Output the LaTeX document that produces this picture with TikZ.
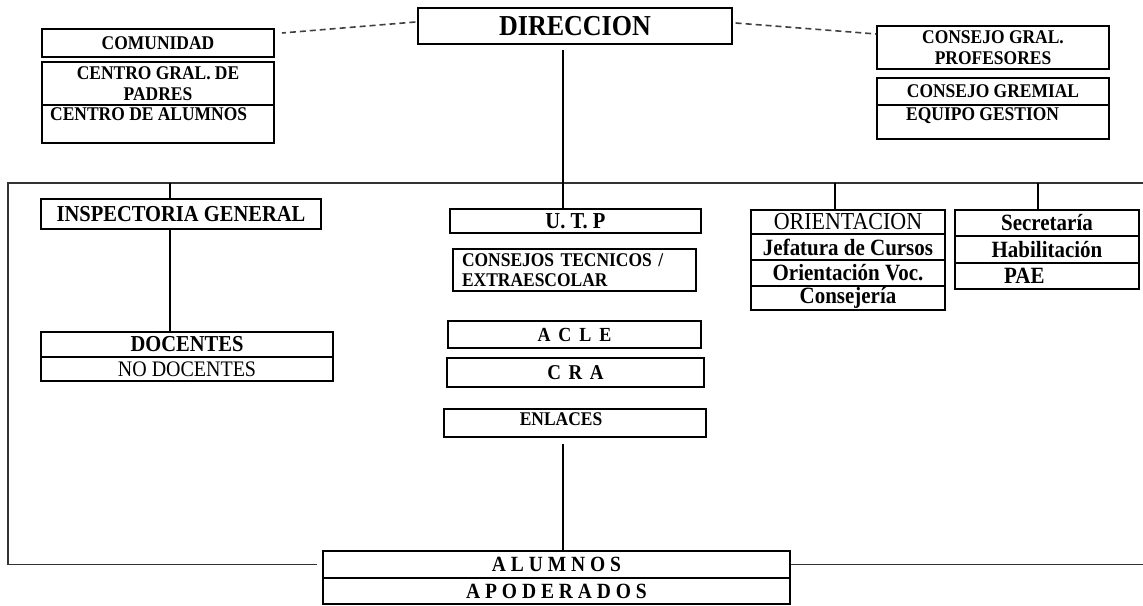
\documentclass[tikz,border=0pt]{standalone}
\usepackage{fontspec}
\setmainfont[FakeStretch=0.9]{Liberation Serif}
\usetikzlibrary{calc}
\begin{document}
\begin{tikzpicture}[x=1pt,y=-1pt,
  box/.style={draw=black, line width=1.2pt, fill=white, inner sep=0pt, align=center},
  tA/.style={font=\fontsize{19.4}{20.5}\selectfont\bfseries},
  tB/.style={font=\fontsize{22.8}{24}\selectfont\bfseries},
  tC/.style={font=\fontsize{23.3}{24}\selectfont\bfseries},
  rB/.style={font=\fontsize{22.2}{24}\selectfont},
  conn/.style={draw=black, line width=1.2pt},
  bracket/.style={draw=black!80, line width=1.8pt},
  dashline/.style={draw=black!75, line width=1.6pt, dash pattern=on 6pt off 4pt}]
\useasboundingbox (0,0) rectangle (1143,605);

% top row
\node[box, font=\fontsize{28.9}{30}\selectfont\bfseries, minimum width=314pt, minimum height=36pt] (dir) at (575,26) {DIRECCION};
\node[box, tA, minimum width=232pt, minimum height=28pt] (com) at (158,43) {COMUNIDAD};
\node[box, tA, minimum width=232pt, minimum height=43pt] (cgpa) at (158,83.5) {CENTRO GRAL. DE\\PADRES};
\node[box, minimum width=232pt, minimum height=38pt] (calu) at (158,124) {};
\node[tA, anchor=west, inner sep=0pt] (calut) at (50,114) {CENTRO DE ALUMNOS};
\node[box, tA, minimum width=232pt, minimum height=43pt] (cgp) at (993,47.5) {CONSEJO GRAL.\\PROFESORES};
\node[box, tA, minimum width=232pt, minimum height=27pt] (cgr) at (993,91.5) {CONSEJO GREMIAL};
\node[box, minimum width=232pt, minimum height=34pt] (eqg) at (993,122) {};
\node[tA, anchor=west, inner sep=0pt] (eqgt) at (906,116) {EQUIPO GESTION};

% left column
\node[box, tB, minimum width=280pt, minimum height=30pt] (insp) at (181,214) {INSPECTORIA GENERAL};
\node[box, tB, minimum width=292pt, minimum height=25pt] (doc) at (187,344.5) {DOCENTES};
\node[box, rB, minimum width=292pt, minimum height=24pt] (nodoc) at (187,369) {NO DOCENTES};

% middle column
\node[box, tB, minimum width=251pt, minimum height=24pt] (utp) at (575.5,221) {U. T. P};
\node[box, tA, minimum width=243pt, minimum height=42pt, text width=225pt, align=left] (ctec) at (574.5,270) {CONSEJOS TECNICOS /\\EXTRAESCOLAR};
\node[box, font=\fontsize{20}{21}\selectfont\bfseries, minimum width=253pt, minimum height=27pt] (acle) at (574.5,334.5) {A\hspace{8pt}C\hspace{8pt}L\hspace{8pt}E};
\node[box, font=\fontsize{21.1}{22}\selectfont\bfseries, minimum width=257pt, minimum height=29pt] (cra) at (575.5,372.5) {C\hspace{7.5pt}R\hspace{7.5pt}A};
\node[box, minimum width=262pt, minimum height=28pt] (enl) at (575,423) {};
\node[tA, inner sep=0pt] (enlt) at (561,419.5) {ENLACES};

% right columns
\node[box, font=\fontsize{24.4}{25}\selectfont, minimum width=194pt, minimum height=24pt] (ori1) at (848,222) {ORIENTACION};
\node[box, tC, minimum width=194pt, minimum height=26pt] (ori2) at (848,247) {Jefatura de Cursos};
\node[box, tC, minimum width=194pt, minimum height=26pt] (ori3) at (848,273) {Orientación Voc.};
\node[box, tC, minimum width=194pt, minimum height=24pt] (ori4) at (848,298) {Consejería};
\node[box, tC, minimum width=184pt, minimum height=26pt] (sec1) at (1047,223) {Secretaría};
\node[box, tC, minimum width=184pt, minimum height=27pt] (sec2) at (1047,249.5) {Habilitación};
\node[box, minimum width=184pt, minimum height=26pt] (sec3) at (1047,276) {};
\node[tC, anchor=west, inner sep=0pt] (paet) at (1004,276) {PAE};

% bottom
\node[box, font=\fontsize{21.7}{22}\selectfont\bfseries, minimum width=467pt, minimum height=27pt] (alum) at (556.5,564.5) {A L U M N O S};
\node[box, font=\fontsize{21.7}{22}\selectfont\bfseries, minimum width=467pt, minimum height=26pt] (apod) at (556.5,591) {A P O D E R A D O S};

% frame coordinates
\coordinate (tl) at (8,183);
\coordinate (tr) at (1143,183);
\coordinate (t1) at (170,183);
\coordinate (t2) at (563,183);
\coordinate (t3) at (835,183);
\coordinate (t4) at (1038,183);
\coordinate (dl) at (282,33);

% bracket
\draw[bracket] ($(alum.west)+(-5,0)$) -| (tl) -- (tr);
\draw[bracket] (alum.east) -- (alum.east -| tr);

% dashed links
\draw[dashline] ($(dir.west)+(-2,-4)$) -- (dl);
\draw[dashline] ($(dir.east)+(3,-3)$) -- ($(cgp.west)+(0,-13.5)$);

% connectors
\draw[conn] ($(dir.south -| t2)+(0,5)$) -- (utp.north -| t2);
\draw[conn] (t1) -- (t1 |- insp.north);
\draw[conn] (t1 |- insp.south) -- (t1 |- doc.north);
\draw[conn] (t3) -- (t3 |- ori1.north);
\draw[conn] (t4) -- (t4 |- sec1.north);
\draw[conn] ($(enl.south -| t2)+(0,6)$) -- (alum.north -| t2);
\end{tikzpicture}
\end{document}
